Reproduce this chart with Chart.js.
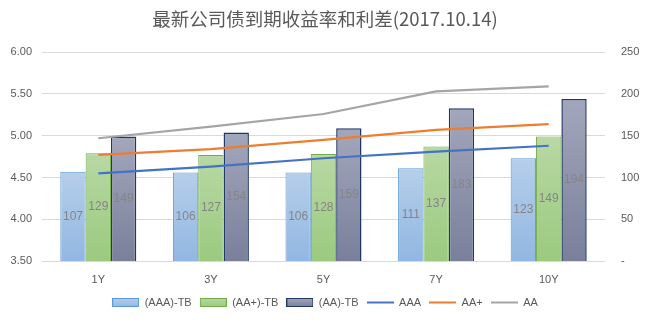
<!DOCTYPE html>
<html>
<head>
<meta charset="utf-8">
<script src="https://cdn.jsdelivr.net/npm/chart.js@4/dist/chart.umd.min.js"></script>
<style>
  html, body { margin: 0; padding: 0; background: #fff; }
  #wrap { width: 650px; height: 322px; }
</style>
</head>
<body>
<div id="wrap"><canvas id="c" width="650" height="322"></canvas></div>
<script>
// Data
const categories = ['1Y', '3Y', '5Y', '7Y', '10Y'];
const spreadAAA = [107, 106, 106, 111, 123];
const spreadAAplus = [129, 127, 128, 137, 149];
const spreadAA = [149, 154, 159, 183, 194];
const yieldAAA = [4.55, 4.63, 4.73, 4.81, 4.88];
const yieldAAplus = [4.77, 4.84, 4.95, 5.07, 5.14];
const yieldAA = [4.97, 5.11, 5.26, 5.53, 5.59];

const textGray = '#595959';
const gridGray = '#d9d9d9';
const fontFamily = '"Liberation Sans", "Noto Sans CJK SC", sans-serif';

// bar fills: [top, bottom, border]
const barStyles = [
    ['#b6ceea', '#92b7e2', '#5b9bd5'],
    ['#b8d8a4', '#9bca7f', '#70ad47'],
    ['#a3a7bc', '#7a809b', '#203864']
];
const lineColors = ['#4472c4', '#ed7d31', '#a5a5a5'];

// gradient per bar, from its top down to the base
function barFill(i) {
    return (ctx) => {
        const chart = ctx.chart;
        const area = chart.chartArea;
        const scale = chart.scales.y1;
        if (!area || !scale || ctx.raw == null) return barStyles[i][1];
        const top = scale.getPixelForValue(ctx.raw);
        const g = chart.ctx.createLinearGradient(0, top, 0, area.bottom);
        g.addColorStop(0, barStyles[i][0]);
        g.addColorStop(1, barStyles[i][1]);
        return g;
    };
}

// small legend icons
function makeIcon(kind, i) {
    const cv = document.createElement('canvas');
    cv.width = 27;
    cv.height = 9;
    const c = cv.getContext('2d');
    if (kind === 'bar') {
        const g = c.createLinearGradient(0, 0, 0, 9);
        g.addColorStop(0, barStyles[i][0]);
        g.addColorStop(1, barStyles[i][1]);
        c.fillStyle = g;
        c.fillRect(1, 1, 25, 7);
        c.strokeStyle = barStyles[i][2];
        c.lineWidth = 1;
        c.strokeRect(0.5, 0.5, 26, 8);
    } else {
        c.strokeStyle = lineColors[i];
        c.lineWidth = 2;
        c.beginPath();
        c.moveTo(0, 4.5);
        c.lineTo(27, 4.5);
        c.stroke();
    }
    return cv;
}

const barLabels = {
    id: 'barLabels',
    afterDatasetsDraw(chart) {
        const ctx = chart.ctx;
        ctx.save();
        ctx.font = '12px ' + fontFamily;
        ctx.fillStyle = '#858585';
        ctx.textAlign = 'center';
        ctx.textBaseline = 'middle';
        chart.data.datasets.forEach((ds, di) => {
            if (ds.type !== 'bar') return;
            chart.getDatasetMeta(di).data.forEach((bar, k) => {
                ctx.fillText(String(ds.data[k]), bar.x, (bar.y + bar.base) / 2);
            });
        });
        ctx.restore();
    }
};

const datasets = [
    { type: 'bar', label: '(AAA)-TB', data: spreadAAA, yAxisID: 'y1', backgroundColor: barFill(0), borderColor: barStyles[0][2], borderWidth: 1, order: 2 },
    { type: 'bar', label: '(AA+)-TB', data: spreadAAplus, yAxisID: 'y1', backgroundColor: barFill(1), borderColor: barStyles[1][2], borderWidth: 1, order: 2 },
    { type: 'bar', label: '(AA)-TB', data: spreadAA, yAxisID: 'y1', backgroundColor: barFill(2), borderColor: barStyles[2][2], borderWidth: 1.5, order: 2 },
    { type: 'line', label: 'AAA', data: yieldAAA, yAxisID: 'y', borderColor: lineColors[0], borderWidth: 2.2, pointRadius: 0, tension: 0, order: 1 },
    { type: 'line', label: 'AA+', data: yieldAAplus, yAxisID: 'y', borderColor: lineColors[1], borderWidth: 2.2, pointRadius: 0, tension: 0, order: 1 },
    { type: 'line', label: 'AA', data: yieldAA, yAxisID: 'y', borderColor: lineColors[2], borderWidth: 2.2, pointRadius: 0, tension: 0, order: 1 }
];

const icons = [makeIcon('bar', 0), makeIcon('bar', 1), makeIcon('bar', 2),
               makeIcon('line', 0), makeIcon('line', 1), makeIcon('line', 2)];

new Chart(document.getElementById('c'), {
    data: { labels: categories, datasets: datasets },
    options: {
        responsive: false,
        animation: false,
        layout: { padding: { left: 0, right: 0, top: 0, bottom: 4 } },
        datasets: {
            bar: { categoryPercentage: 0.675, barPercentage: 1.0 }
        },
        plugins: {
            title: {
                display: true,
                text: '最新公司债到期收益率和利差(2017.10.14)',
                color: textGray,
                font: { size: 18.5, family: '"Noto Sans CJK SC", sans-serif', weight: 'normal' },
                padding: { top: 8, bottom: 22 }
            },
            legend: {
                position: 'bottom',
                labels: {
                    usePointStyle: true,
                    pointStyleWidth: 27,
                    boxHeight: 9,
                    padding: 8,
                    color: textGray,
                    font: { size: 11, family: fontFamily },
                    generateLabels: (chart) => chart.data.datasets.map((ds, i) => ({
                        text: ds.label,
                        pointStyle: icons[i],
                        datasetIndex: i,
                        hidden: false,
                        fontColor: textGray,
                        fillStyle: 'transparent',
                        strokeStyle: 'transparent',
                        lineWidth: 0
                    })),
                    sort: (a, b) => a.datasetIndex - b.datasetIndex
                }
            },
            tooltip: { enabled: false }
        },
        scales: {
            x: {
                grid: { display: false },
                border: { display: false },
                afterFit: (s) => { s.height = 28; },
                ticks: { color: textGray, font: { size: 11, family: fontFamily }, padding: 4 }
            },
            y: {
                position: 'left',
                min: 3.5,
                max: 6.0,
                afterFit: (s) => { s.width = 42; },
                ticks: {
                    stepSize: 0.5,
                    color: textGray,
                    padding: 10,
                    font: { size: 11, family: fontFamily },
                    callback: (v) => Number(v).toFixed(2)
                },
                grid: { color: gridGray, drawTicks: false },
                border: { display: false }
            },
            y1: {
                position: 'right',
                min: 0,
                max: 250,
                afterFit: (s) => { s.width = 45; },
                ticks: {
                    stepSize: 50,
                    color: textGray,
                    padding: 16,
                    font: { size: 11, family: fontFamily },
                    callback: (v) => v === 0 ? '-' : v
                },
                grid: { display: false, drawTicks: false },
                border: { display: false }
            }
        }
    },
    plugins: [barLabels]
});
</script>
</body>
</html>
